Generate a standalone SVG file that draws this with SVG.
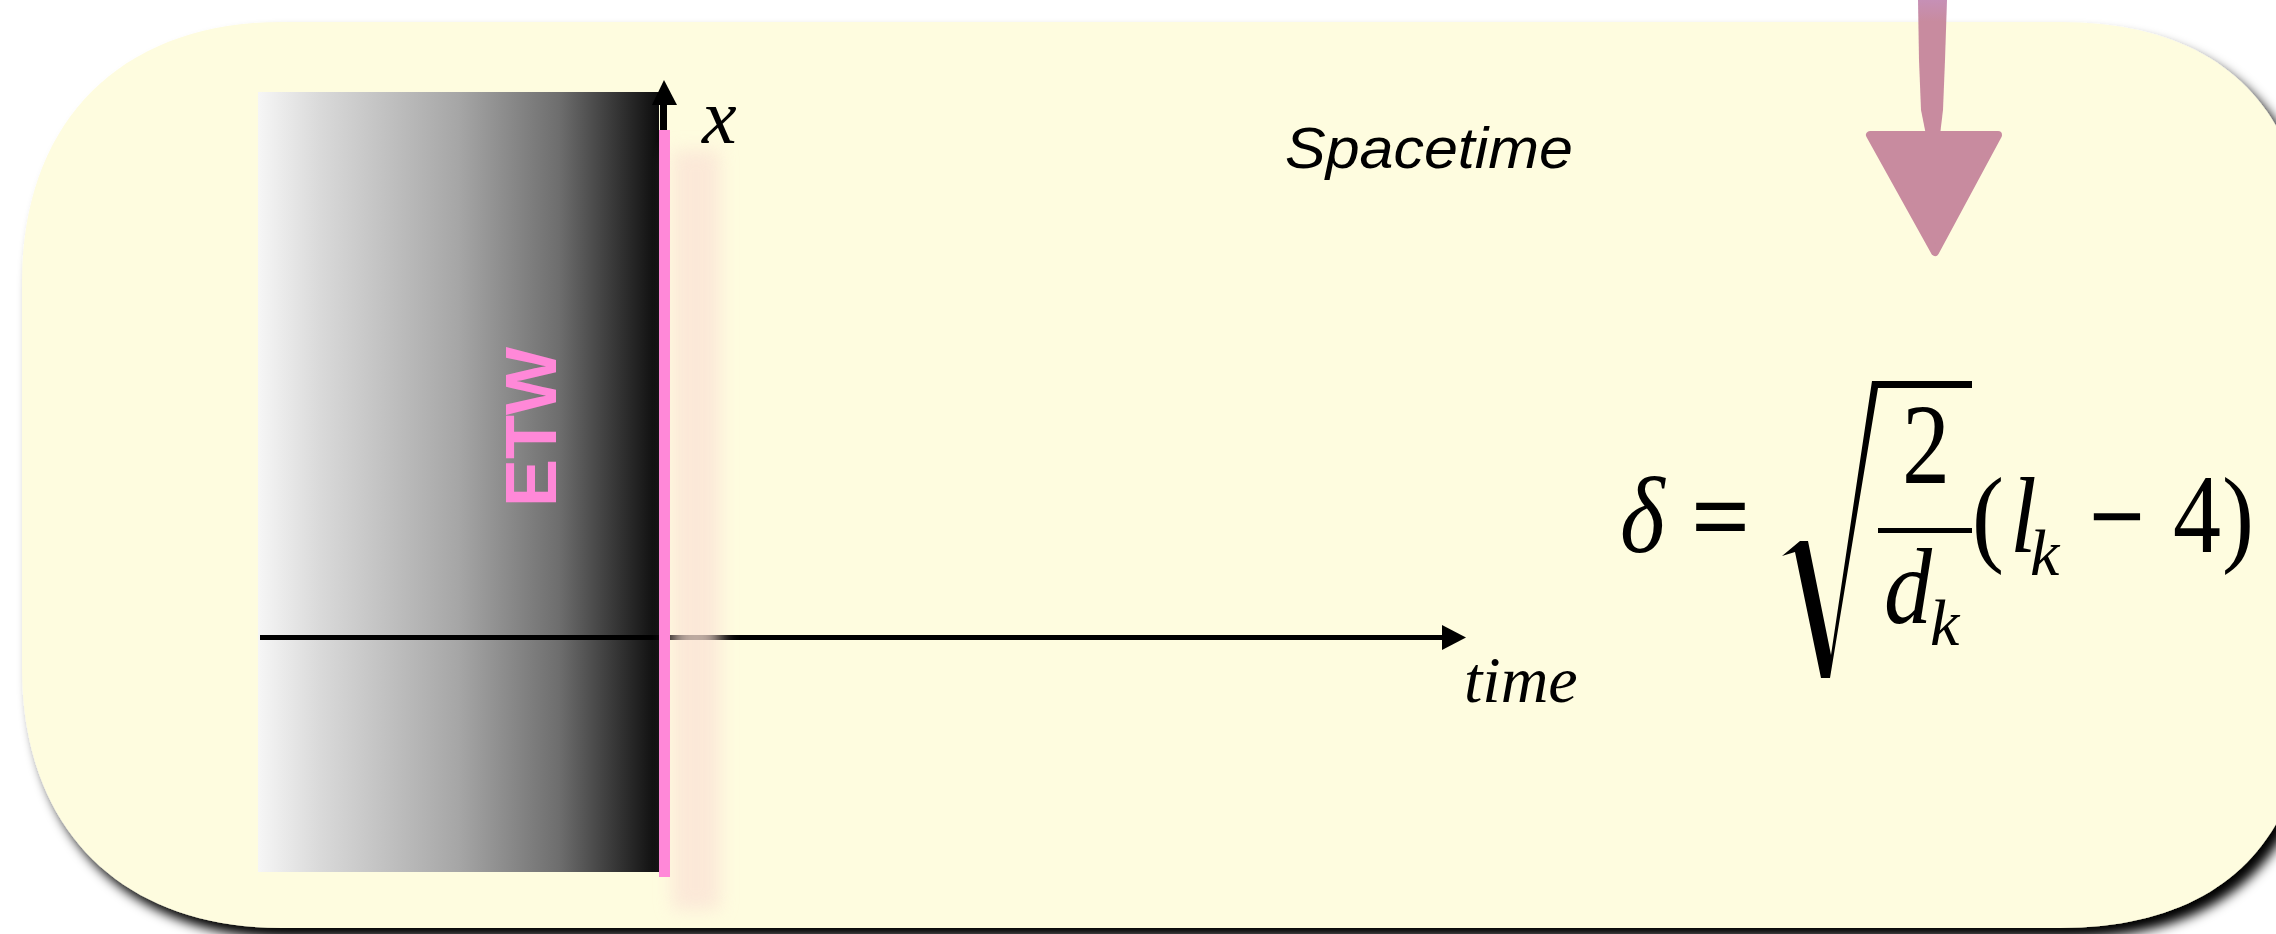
<svg xmlns="http://www.w3.org/2000/svg" width="2276" height="934" viewBox="0 0 2276 934">
  <defs>
    <filter id="shadow" x="-5%" y="-5%" width="110%" height="115%">
      <feDropShadow dx="8" dy="10" stdDeviation="6" flood-color="#000" flood-opacity="1"/>
    </filter>
    <filter id="blur" x="-50%" y="-10%" width="200%" height="120%">
      <feGaussianBlur stdDeviation="9"/>
    </filter>
    <linearGradient id="bw" x1="0" y1="0" x2="1" y2="0">
      <stop offset="0" stop-color="#f6f6f6"/>
      <stop offset="0.15" stop-color="#dadada"/>
      <stop offset="0.5" stop-color="#a6a6a6"/>
      <stop offset="0.75" stop-color="#6e6e6e"/>
      <stop offset="1" stop-color="#0c0c0c"/>
    </linearGradient>
    <linearGradient id="shaft" x1="0" y1="0" x2="0" y2="1">
      <stop offset="0" stop-color="#c690b6"/>
      <stop offset="0.16" stop-color="#c88b9f"/>
      <stop offset="1" stop-color="#c88b9f"/>
    </linearGradient>
    <style>
      .serif { font-family: "Liberation Serif", "Times New Roman", serif; fill: #000; }
      .it { font-style: italic; }
      .sans { font-family: "Liberation Sans", Arial, sans-serif; }
      .axis { stroke: #000; stroke-width: 5; fill: none; }
      .big { font-size: 96px; }
      .sub { font-size: 66px; }
      .thick { stroke: #000; stroke-width: 1.6; }
    </style>
  </defs>

  <rect width="2276" height="934" fill="#ffffff"/>

  <g id="panel">
    <path filter="url(#shadow)" fill="#fefcdf" d="M282,22 H2060 C2222,22 2310,110 2310,272 V678 C2310,840 2222,928 2060,928 H282 C121,928 22,829 22,668 V282 C22,121 121,22 282,22 Z"/>
  </g>

  <g id="etw-block">
    <rect x="258" y="92" width="401" height="780" fill="url(#bw)"/>
    <text class="sans" font-weight="bold" font-size="72" fill="#ff88d8" text-anchor="middle" transform="translate(556,427) rotate(-90)">ETW</text>
  </g>

  <g id="connectors">
    <line class="axis" x1="260" y1="637.5" x2="1444" y2="637.5"/>
    <polygon points="1442,625 1466,637.5 1442,650" fill="#000"/>
    <line x1="663.5" y1="100" x2="663.5" y2="140" stroke="#000" stroke-width="7"/>
    <polygon points="652,105 664,80 677,105" fill="#000"/>
  </g>

  <g id="wall">
    <rect x="672" y="150" width="48" height="760" fill="#fbe2d6" opacity="0.75" filter="url(#blur)"/>
    <rect x="659" y="130" width="11" height="747" fill="#ff88d8"/>
  </g>

  <g id="labels">
    <text class="serif it" x="702" y="143" font-size="78">x</text>
    <text class="serif it" x="1464" y="702" font-size="66">time</text>
    <text class="sans" font-style="italic" x="1285" y="168" font-size="57" textLength="288" lengthAdjust="spacingAndGlyphs">Spacetime</text>
  </g>

  <g id="formula">
    <text class="serif it big" transform="translate(1620,552) scale(1,1.12)">δ</text>
    <text class="serif big thick" transform="translate(1692,552) scale(1.05,1.1)">=</text>
    <path fill="#000" d="M1782,556 L1800,541 L1808,541 L1831,655 L1872,381 L1972,381 L1972,388 L1878,388 L1830,678 L1821,678 L1795,552 Z"/>
    <text class="serif big" transform="translate(1902,483) scale(1,1.18)">2</text>
    <rect x="1878" y="528" width="94" height="5" fill="#000"/>
    <text class="serif it big" transform="translate(1884,623) scale(1,1.12)">d</text>
    <text class="serif it sub" x="1930" y="645">k</text>
    <text class="serif big" transform="translate(1972,552) scale(1,1.12)">(</text>
    <text class="serif it big" transform="translate(2010,552) scale(1,1.12)">l</text>
    <text class="serif it sub" x="2030" y="575">k</text>
    <text class="serif big thick" transform="translate(2090,552) scale(1,1.1)">−</text>
    <text class="serif big" transform="translate(2173,552) scale(1,1.16)">4</text>
    <text class="serif big" transform="translate(2222,552) scale(1,1.12)">)</text>
  </g>

  <g id="pink-arrow">
    <path fill="url(#shaft)" d="M1918,0 H1947 L1945,60 L1943,110 L1940,135 H1926 L1921,110 L1919,60 Z"/>
    <polygon points="1870,135 1998,135 1935,252" fill="#c88b9f" stroke="#c88b9f" stroke-width="8" stroke-linejoin="round"/>
  </g>
</svg>
